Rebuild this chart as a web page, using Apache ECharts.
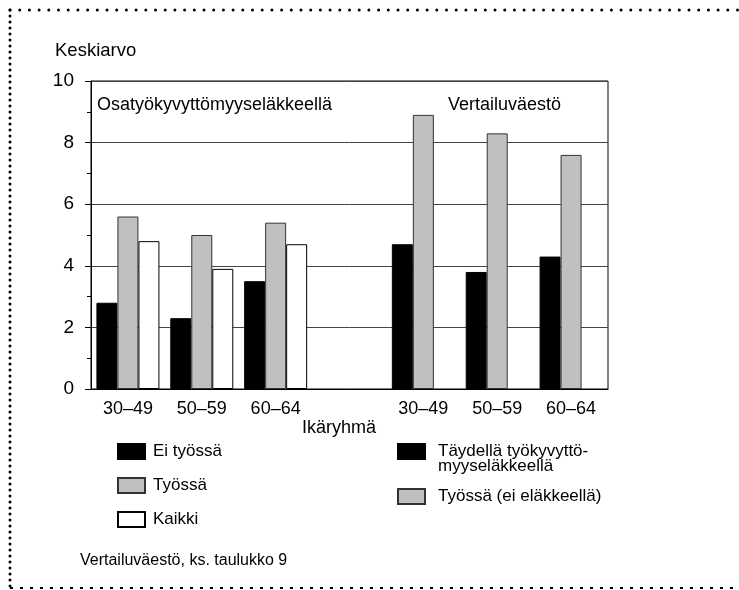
<!DOCTYPE html>
<html>
<head>
<meta charset="utf-8">
<script src="https://cdn.jsdelivr.net/npm/echarts@6/dist/echarts.min.js"></script>
<style>
  html, body { margin: 0; padding: 0; background: #fff; }
  #chart { width: 739px; height: 590px; }
</style>
</head>
<body>
<div id="chart"></div>
<script>
// ikäryhmät: vasen ryhmä osatyökyvyttömyyseläkkeellä, oikea vertailuväestö
var categories = ['30–49', '50–59', '60–64', '', '30–49', '50–59', '60–64'];
var eiTyossa = [2.8, 2.3, 3.5, '-', '-', '-', '-'];
var tyossa = [5.6, 5.0, 5.4, '-', '-', '-', '-'];
var kaikki = [4.8, 3.9, 4.7, '-', '-', '-', '-'];
var taydella = ['-', '-', '-', '-', 4.7, 3.8, 4.3];
var tyossaEiElakkeella = ['-', '-', '-', '-', 8.9, 8.3, 7.6];
var yTicks = [0, 2, 4, 6, 8, 10];

var font = 'Liberation Sans, Arial, sans-serif';
var nimiTaydella = 'Täydellä työkyvyttö-\nmyyseläkkeellä';

var myChart = echarts.init(document.getElementById('chart'));

function bar(name, data, stack, color, border) {
    return {
        name: name,
        type: 'bar',
        stack: stack,
        data: data,
        barWidth: 21,
        barGap: '0%',
        itemStyle: { color: color, borderColor: border, borderWidth: 1 },
        emphasis: { disabled: true }
    };
}

var option = {
    animation: false,
    textStyle: { fontFamily: font },
    grid: {
        left: 91, right: 131, top: 81, bottom: 201,
        show: true, borderColor: '#000', borderWidth: 1
    },
    xAxis: {
        type: 'category',
        data: categories,
        axisLine: { lineStyle: { color: '#000', width: 1 } },
        axisTick: { show: false },
        axisLabel: { color: '#000', fontSize: 18, margin: 11, fontFamily: font }
    },
    yAxis: {
        type: 'value',
        min: yTicks[0],
        max: yTicks[yTicks.length - 1],
        interval: 2,
        axisLine: { show: true, lineStyle: { color: '#000', width: 1 } },
        axisTick: { show: true, length: 6, lineStyle: { color: '#000' } },
        minorTick: { show: true, splitNumber: 2, length: 4, lineStyle: { color: '#000' } },
        splitLine: { lineStyle: { color: '#444', width: 1 } },
        axisLabel: { color: '#000', fontSize: 19, margin: 17, fontFamily: font }
    },
    legend: [
        {
            data: ['Ei työssä', 'Työssä', 'Kaikki'],
            orient: 'vertical',
            left: 117, top: 443, padding: 0,
            itemWidth: 27, itemHeight: 15, itemGap: 17,
            icon: 'rect',
            textStyle: { color: '#000', fontSize: 17, fontFamily: font, padding: [0, 0, 0, 3] }
        },
        {
            data: [nimiTaydella],
            left: 397, top: 428, padding: 0,
            itemWidth: 27, itemHeight: 15,
            icon: 'rect',
            // tyhjä rivi alkuun, jotta laatikko asettuu ensimmäisen rivin kohdalle
            formatter: function (n) { return ' \n' + n; },
            textStyle: { color: '#000', fontSize: 17, lineHeight: 15, fontFamily: font, padding: [0, 0, 0, 8] }
        },
        {
            data: ['Työssä (ei eläkkeellä)'],
            left: 397, top: 488, padding: 0,
            itemWidth: 27, itemHeight: 15,
            icon: 'rect',
            textStyle: { color: '#000', fontSize: 17, fontFamily: font, padding: [0, 0, 0, 8] }
        }
    ],
    graphic: [
        { type: 'text', left: 55, top: 41, style: { text: 'Keskiarvo', fontSize: 18.5, fontFamily: font, fill: '#000' } },
        { type: 'text', left: 97, top: 96, style: { text: 'Osatyökyvyttömyyseläkkeellä', fontSize: 18, fontFamily: font, fill: '#000' } },
        { type: 'text', left: 448, top: 96, style: { text: 'Vertailuväestö', fontSize: 18, fontFamily: font, fill: '#000' } },
        { type: 'text', left: 302, top: 419, style: { text: 'Ikäryhmä', fontSize: 18, fontFamily: font, fill: '#000' } },
        { type: 'text', left: 80, top: 553, style: { text: 'Vertailuväestö, ks. taulukko 9', fontSize: 16, fontFamily: font, fill: '#000' } },
        // pisteviivakehys
        { type: 'line', shape: { x1: 10, y1: 10, x2: 739, y2: 10 },
          style: { stroke: '#000', lineWidth: 3, lineCap: 'round', lineDash: [0, 9.7] } },
        { type: 'line', shape: { x1: 10, y1: 10, x2: 10, y2: 588 },
          style: { stroke: '#000', lineWidth: 3, lineCap: 'round', lineDash: [0, 6] } },
        { type: 'line', shape: { x1: 10, y1: 588, x2: 739, y2: 588 },
          style: { stroke: '#000', lineWidth: 2, lineDash: [3, 7] } }
    ],
    series: [
        bar('Ei työssä', eiTyossa, 'a', '#000', '#000'),
        bar('Työssä', tyossa, 'b', '#c0c0c0', '#333'),
        bar('Kaikki', kaikki, 'c', '#fff', '#000'),
        bar(nimiTaydella, taydella, 'a', '#000', '#000'),
        bar('Työssä (ei eläkkeellä)', tyossaEiElakkeella, 'b', '#c0c0c0', '#333')
    ]
};

myChart.setOption(option);
</script>
</body>
</html>
